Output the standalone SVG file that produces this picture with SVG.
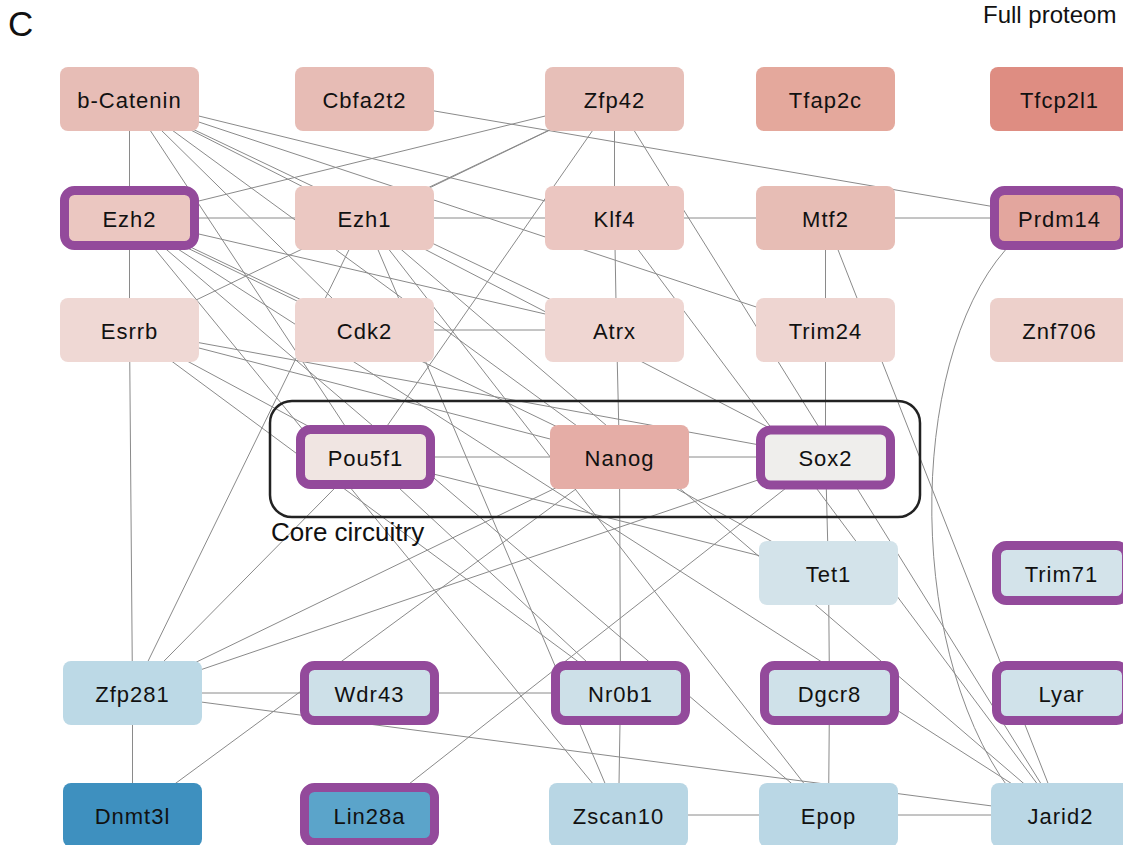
<svg xmlns="http://www.w3.org/2000/svg" width="1123" height="845" viewBox="0 0 1123 845">
<style>
text{font-family:"Liberation Sans",Arial,Helvetica,sans-serif;fill:#111}
.lbl{font-size:22px;letter-spacing:1px;text-anchor:middle}
.e line,.e path{stroke:#8a8a8a;stroke-width:1;fill:none}
.b{rx:8;ry:8}
.p{rx:10;ry:10;stroke:#934a9b;stroke-width:9}
</style>
<rect width="1123" height="845" fill="#fff"/>
<text x="8" y="36" style="font-size:35px">C</text>
<text x="983" y="23" style="font-size:24px">Full proteom</text>
<g id="connectors" class="e">
<line x1="129.5" y1="99" x2="129.5" y2="218"/>
<line x1="129.5" y1="218" x2="129.5" y2="330"/>
<line x1="129.5" y1="330" x2="132.5" y2="693"/>
<line x1="132.5" y1="693" x2="132.5" y2="815"/>
<line x1="129.5" y1="218" x2="364.5" y2="218"/>
<line x1="364.5" y1="218" x2="614.5" y2="218"/>
<line x1="614.5" y1="218" x2="825.5" y2="218"/>
<line x1="825.5" y1="218" x2="1059.5" y2="218"/>
<line x1="364.5" y1="330" x2="614.5" y2="330"/>
<line x1="365.5" y1="457" x2="619.5" y2="457"/>
<line x1="619.5" y1="457" x2="825.5" y2="457"/>
<line x1="132.5" y1="693" x2="369.5" y2="693"/>
<line x1="369.5" y1="693" x2="620.5" y2="693"/>
<line x1="618.5" y1="815" x2="828.5" y2="815"/>
<line x1="828.5" y1="815" x2="1060.5" y2="815"/>
<line x1="614.5" y1="99" x2="614.5" y2="218"/>
<line x1="614.5" y1="218" x2="616.5" y2="330"/>
<line x1="616.5" y1="330" x2="619.5" y2="457"/>
<line x1="619.5" y1="457" x2="620.5" y2="693"/>
<line x1="620.5" y1="693" x2="618.5" y2="815"/>
<line x1="825.5" y1="218" x2="825.5" y2="330"/>
<line x1="825.5" y1="330" x2="825.5" y2="457"/>
<line x1="825.5" y1="457" x2="828.5" y2="573"/>
<line x1="828.5" y1="573" x2="829.5" y2="693"/>
<line x1="829.5" y1="693" x2="828.5" y2="815"/>
<line x1="364.5" y1="99" x2="1059.5" y2="218"/>
<path d="M1015,240 C910,340 900,640 1010,790"/>
<line x1="129.5" y1="218" x2="614.5" y2="99"/>
<line x1="614.5" y1="99" x2="364.5" y2="218"/>
<line x1="614.5" y1="99" x2="129.5" y2="332"/>
<line x1="129.5" y1="99" x2="614.5" y2="218"/>
<line x1="129.5" y1="99" x2="825.5" y2="330"/>
<line x1="129.5" y1="99" x2="364.5" y2="218"/>
<line x1="129.5" y1="99" x2="614.5" y2="330"/>
<line x1="129.5" y1="99" x2="364.5" y2="330"/>
<line x1="129.5" y1="99" x2="365.5" y2="457"/>
<line x1="129.5" y1="99" x2="619.5" y2="457"/>
<line x1="129.5" y1="218" x2="614.5" y2="330"/>
<line x1="129.5" y1="218" x2="364.5" y2="330"/>
<line x1="129.5" y1="220" x2="619.5" y2="457"/>
<line x1="614.5" y1="99" x2="365.5" y2="457"/>
<line x1="614.5" y1="99" x2="1060.5" y2="815"/>
<line x1="825.5" y1="218" x2="1060.5" y2="815"/>
<line x1="364.5" y1="218" x2="132.5" y2="693"/>
<line x1="132.5" y1="693" x2="365.5" y2="457"/>
<line x1="132.5" y1="693" x2="619.5" y2="457"/>
<line x1="132.5" y1="693" x2="825.5" y2="457"/>
<line x1="132.5" y1="693" x2="1060.5" y2="815"/>
<line x1="132.5" y1="815" x2="619.5" y2="457"/>
<line x1="369.5" y1="815" x2="825.5" y2="457"/>
<line x1="129.5" y1="330" x2="365.5" y2="457"/>
<line x1="129.5" y1="330" x2="619.5" y2="457"/>
<line x1="129.5" y1="330" x2="825.5" y2="457"/>
<line x1="129.5" y1="330" x2="620.5" y2="693"/>
<line x1="129.5" y1="218" x2="618.5" y2="815"/>
<line x1="129.5" y1="218" x2="828.5" y2="815"/>
<line x1="129.5" y1="218" x2="1060.5" y2="815"/>
<line x1="364.5" y1="218" x2="618.5" y2="815"/>
<line x1="364.5" y1="218" x2="828.5" y2="815"/>
<line x1="364.5" y1="218" x2="1060.5" y2="815"/>
<line x1="364.5" y1="218" x2="825.5" y2="457"/>
<line x1="614.5" y1="218" x2="1060.5" y2="815"/>
<line x1="365.5" y1="457" x2="620.5" y2="693"/>
<line x1="365.5" y1="457" x2="828.5" y2="573"/>
<line x1="619.5" y1="457" x2="828.5" y2="573"/>
</g>
<rect id="core-box" x="270" y="401" width="650" height="116" rx="22" fill="none" stroke="#222" stroke-width="2.5"/>
<text x="271" y="541" style="font-size:26px">Core circuitry</text>
<g id="n-bCatenin"><rect class="b" x="60" y="67" width="139" height="64" fill="#e7bdb6"/><text class="lbl" x="129.5" y="107.5">b-Catenin</text></g>
<g id="n-Cbfa2t2"><rect class="b" x="295" y="67" width="139" height="64" fill="#e7bcb5"/><text class="lbl" x="364.5" y="107.5">Cbfa2t2</text></g>
<g id="n-Zfp42"><rect class="b" x="545" y="67" width="139" height="64" fill="#e7bfb8"/><text class="lbl" x="614.5" y="107.5">Zfp42</text></g>
<g id="n-Tfap2c"><rect class="b" x="756" y="67" width="139" height="64" fill="#e4a89c"/><text class="lbl" x="825.5" y="107.5">Tfap2c</text></g>
<g id="n-Tfcp2l1"><rect class="b" x="990" y="67" width="139" height="64" fill="#de8d82"/><text class="lbl" x="1059.5" y="107.5">Tfcp2l1</text></g>
<g id="n-Ezh2"><rect class="p" x="64.5" y="190.5" width="130" height="55" fill="#ebc7c1"/><text class="lbl" x="129.5" y="226.5">Ezh2</text></g>
<g id="n-Ezh1"><rect class="b" x="295" y="186" width="139" height="64" fill="#ebc8c2"/><text class="lbl" x="364.5" y="226.5">Ezh1</text></g>
<g id="n-Klf4"><rect class="b" x="545" y="186" width="139" height="64" fill="#ebc6c1"/><text class="lbl" x="614.5" y="226.5">Klf4</text></g>
<g id="n-Mtf2"><rect class="b" x="756" y="186" width="139" height="64" fill="#e7bdb5"/><text class="lbl" x="825.5" y="226.5">Mtf2</text></g>
<g id="n-Prdm14"><rect class="p" x="994.5" y="190.5" width="130" height="55" fill="#e3a69e"/><text class="lbl" x="1059.5" y="226.5">Prdm14</text></g>
<g id="n-Esrrb"><rect class="b" x="60" y="298" width="139" height="64" fill="#efd8d4"/><text class="lbl" x="129.5" y="338.5">Esrrb</text></g>
<g id="n-Cdk2"><rect class="b" x="295" y="298" width="139" height="64" fill="#eed4d0"/><text class="lbl" x="364.5" y="338.5">Cdk2</text></g>
<g id="n-Atrx"><rect class="b" x="545" y="298" width="139" height="64" fill="#efd6d2"/><text class="lbl" x="614.5" y="338.5">Atrx</text></g>
<g id="n-Trim24"><rect class="b" x="756" y="298" width="139" height="64" fill="#eed5d1"/><text class="lbl" x="825.5" y="338.5">Trim24</text></g>
<g id="n-Znf706"><rect class="b" x="990" y="298" width="139" height="64" fill="#edd0cb"/><text class="lbl" x="1059.5" y="338.5">Znf706</text></g>
<g id="n-Pou5f1"><rect class="p" x="300.5" y="429.5" width="130" height="55" fill="#f0e5e2"/><text class="lbl" x="365.5" y="465.5">Pou5f1</text></g>
<g id="n-Nanog"><rect class="b" x="550" y="425" width="139" height="64" fill="#e5ada6"/><text class="lbl" x="619.5" y="465.5">Nanog</text></g>
<g id="n-Sox2"><rect class="p" x="760.5" y="430" width="130" height="55" fill="#efeeec"/><text class="lbl" x="825.5" y="466">Sox2</text></g>
<g id="n-Tet1"><rect class="b" x="759" y="541" width="139" height="64" fill="#d3e3ea"/><text class="lbl" x="828.5" y="581.5">Tet1</text></g>
<g id="n-Trim71"><rect class="p" x="996.5" y="545.5" width="130" height="55" fill="#d3e3ea"/><text class="lbl" x="1061.5" y="581.5">Trim71</text></g>
<g id="n-Zfp281"><rect class="b" x="63" y="661" width="139" height="64" fill="#bcd9e6"/><text class="lbl" x="132.5" y="701.5">Zfp281</text></g>
<g id="n-Wdr43"><rect class="p" x="304.5" y="665.5" width="130" height="55" fill="#cde0e8"/><text class="lbl" x="369.5" y="701.5">Wdr43</text></g>
<g id="n-Nr0b1"><rect class="p" x="555.5" y="665.5" width="130" height="55" fill="#cde0e8"/><text class="lbl" x="620.5" y="701.5">Nr0b1</text></g>
<g id="n-Dgcr8"><rect class="p" x="764.5" y="665.5" width="130" height="55" fill="#cfe1e9"/><text class="lbl" x="829.5" y="701.5">Dgcr8</text></g>
<g id="n-Lyar"><rect class="p" x="996.5" y="665.5" width="130" height="55" fill="#d0e2ea"/><text class="lbl" x="1061.5" y="701.5">Lyar</text></g>
<g id="n-Dnmt3l"><rect class="b" x="63" y="783" width="139" height="64" fill="#3e90bf"/><text class="lbl" x="132.5" y="823.5">Dnmt3l</text></g>
<g id="n-Lin28a"><rect class="p" x="304.5" y="787.5" width="130" height="55" fill="#5ba4ca"/><text class="lbl" x="369.5" y="823.5">Lin28a</text></g>
<g id="n-Zscan10"><rect class="b" x="549" y="783" width="139" height="64" fill="#b8d6e4"/><text class="lbl" x="618.5" y="823.5">Zscan10</text></g>
<g id="n-Epop"><rect class="b" x="759" y="783" width="139" height="64" fill="#bad7e5"/><text class="lbl" x="828.5" y="823.5">Epop</text></g>
<g id="n-Jarid2"><rect class="b" x="991" y="783" width="139" height="64" fill="#bad7e5"/><text class="lbl" x="1060.5" y="823.5">Jarid2</text></g>
</svg>
